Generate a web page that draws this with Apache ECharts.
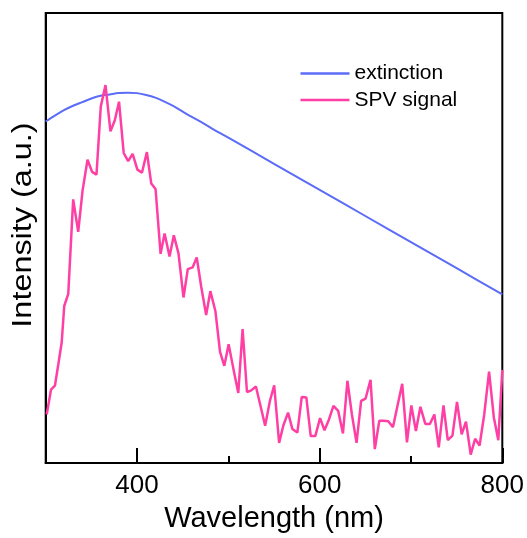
<!DOCTYPE html>
<html>
<head>
<meta charset="utf-8">
<script src="https://cdn.jsdelivr.net/npm/echarts@6/dist/echarts.min.js"></script>
<style>html,body{margin:0;padding:0;background:#fff}#c{width:527px;height:538px}</style>
</head>
<body>
<div id="c"></div>
<script>
// Wavelength (nm) and relative intensity (0-100 scale of plot height)
const extWl = [300, 310, 320, 330, 340, 350, 360, 370, 380, 390, 400, 410, 420, 430, 440, 450, 460, 470, 480, 490, 500, 550, 600, 650, 700, 750, 800];
const extVal = [75.9, 77.2, 78.4, 79.4, 80.2, 81.0, 81.6, 81.9, 82.2, 82.3, 82.2, 81.8, 81.2, 80.3, 79.3, 78.1, 76.9, 75.8, 74.6, 73.4, 72.3, 66.5, 60.7, 54.9, 49.1, 43.3, 37.5];

const spvWl = [301.1, 305.8, 310.1, 313.7, 317.5, 320.3, 324.7, 330.1, 335.6, 340.4,
  345.8, 350.8, 355.6, 360.3, 365.5, 370.9, 375.6, 380.3, 385.4, 390.3,
  395.2, 400.4, 405.4, 410.8, 415.6, 420.3, 425.8, 430.2, 435.6, 440.3,
  445.4, 450.9, 455.6, 461.0, 465.4, 470.2, 475.7, 480.3, 485.8, 490.9,
  495.6, 500.3, 505.4, 510.9, 515.6, 520.4, 524.7, 530.2, 535.7, 540.3,
  545.5, 550.2, 555.6, 560.3, 565.4, 570.1, 575.6, 580.4, 585.4, 590.2,
  595.2, 600.4, 605.3, 610.2, 615.1, 620.3, 625.5, 630.4, 635.3, 640.4,
  645.4, 650.2, 655.7, 660.4, 665.3, 670.2, 675.1, 680.3, 685.5, 690.4,
  695.6, 700.4, 705.4, 710.3, 715.7, 720.7, 725.6, 730.4, 735.6, 740.3,
  745.4, 750.4, 755.5, 760.2, 765.4, 770.2, 775.1, 780.2, 785.5, 790.7,
  795.6, 800];
const spvVal = [10.8, 16.3, 17.2, 21.8, 26.8, 34.9, 37.6, 58.6, 51.4, 60.6,
  67.4, 64.7, 64.1, 79.2, 84.0, 73.7, 76.1, 80.3, 68.9, 67.1,
  68.7, 65.2, 64.5, 69.1, 62.1, 60.9, 46.5, 51.0, 45.9, 50.6,
  46.6, 36.8, 43.1, 43.5, 45.7, 39.3, 32.9, 38.2, 33.8, 24.7,
  21.6, 26.4, 21.1, 15.6, 29.8, 15.8, 16.1, 17.0, 12.3, 8.3,
  13.8, 17.3, 4.5, 8.4, 11.2, 7.6, 6.8, 14.7, 14.6, 6.0,
  6.0, 10.0, 7.3, 9.7, 12.7, 11.6, 6.6, 18.3, 10.8, 4.5,
  13.8, 14.3, 18.5, 3.1, 9.4, 9.4, 9.3, 8.0, 13.0, 17.6,
  4.6, 12.8, 7.1, 12.5, 8.7, 8.7, 10.8, 3.5, 12.8, 5.1,
  6.1, 13.6, 6.4, 9.2, 1.9, 5.4, 3.9, 10.8, 20.3, 10.2,
  5.1, 20.7];

const majorTicks = [400, 600, 800];
const minorTicks = [500, 700];
const yTitle = 'Intensity (a.u.)';

const zip = (xs, ys) => xs.map((x, i) => [x, ys[i]]);
const font = 'Liberation Sans, Arial, sans-serif';

const chart = echarts.init(document.getElementById('c'), null, {renderer: 'canvas'});
chart.setOption({
  animation: false,
  backgroundColor: '#fff',
  grid: {left: 45.7, right: 23, top: 13, bottom: 68.5, show: true, borderColor: '#000', borderWidth: 2, containLabel: false},
  legend: {
    orient: 'vertical', left: 295.5, top: 58, itemWidth: 49, itemHeight: 2.5, itemGap: 5.5,
    icon: 'rect',
    textStyle: {fontFamily: font, fontSize: 21, color: '#000'},
    data: ['extinction', 'SPV signal']
  },
  graphic: [{
    type: 'text', x: 24, y: 225, rotation: Math.PI / 2, scaleX: 1.2,
    style: {text: yTitle, fontFamily: font, fontSize: 27, fill: '#000', align: 'center', verticalAlign: 'middle'}
  }],
  xAxis: [{
    type: 'value', min: 300, max: 800, interval: 100,
    name: 'Wavelength (nm)', nameLocation: 'middle', nameGap: 36,
    nameTextStyle: {fontFamily: font, fontSize: 29, color: '#000'},
    axisLine: {show: true, onZero: false, lineStyle: {color: '#000', width: 2}},
    axisTick: {show: true, inside: true, length: 15, lineStyle: {color: '#000', width: 2}, customValues: majorTicks},
    axisLabel: {show: true, margin: 10, fontFamily: font, fontSize: 26, color: '#000', customValues: majorTicks},
    splitLine: {show: false}
  }, {
    type: 'value', min: 300, max: 800, interval: 100, position: 'bottom',
    axisLine: {show: false},
    axisTick: {show: true, inside: true, length: 7, lineStyle: {color: '#000', width: 2}, customValues: minorTicks},
    axisLabel: {show: false},
    splitLine: {show: false}
  }],
  yAxis: {
    type: 'value', min: 0, max: 100,
    axisLine: {show: true, lineStyle: {color: '#000', width: 2}},
    axisTick: {show: false}, axisLabel: {show: false}, splitLine: {show: false}
  },
  series: [{
    name: 'extinction', type: 'line', smooth: 0.3, symbol: 'none',
    data: zip(extWl, extVal),
    lineStyle: {color: '#5b6cf7', width: 2}, itemStyle: {color: '#5b6cf7'}
  }, {
    name: 'SPV signal', type: 'line', symbol: 'none',
    data: zip(spvWl, spvVal),
    lineStyle: {color: '#ff3fa4', width: 2.5}, itemStyle: {color: '#ff3fa4'}
  }]
});
</script>
</body>
</html>
